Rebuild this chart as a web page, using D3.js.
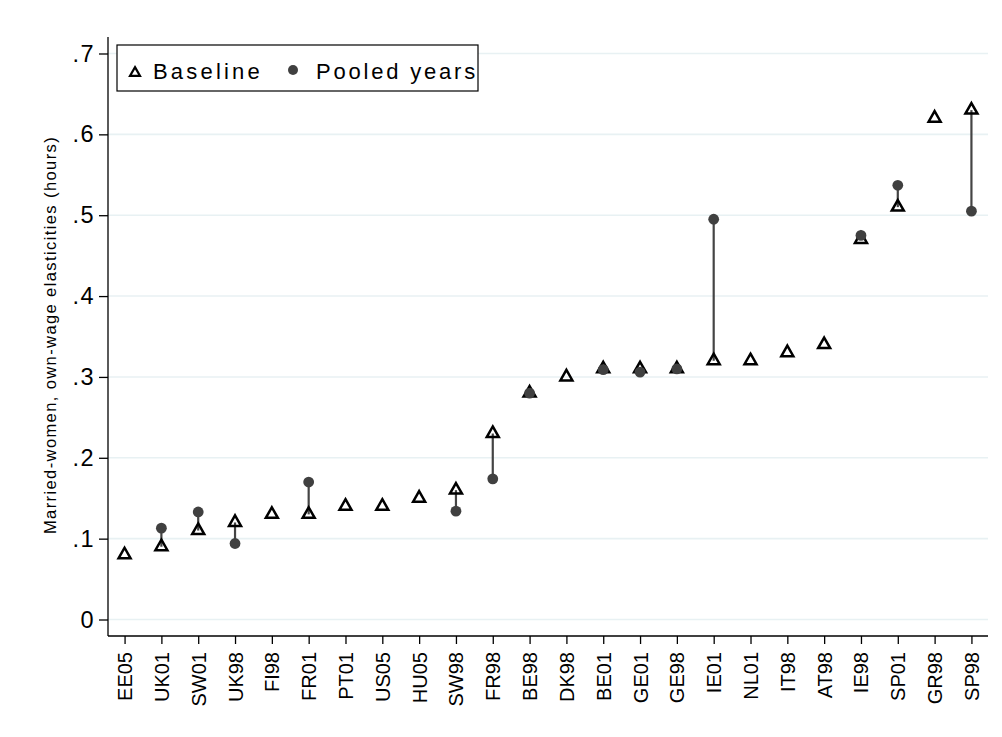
<!DOCTYPE html>
<html>
<head>
<meta charset="utf-8">
<script src="https://cdn.jsdelivr.net/npm/d3@7"></script>
<style>
  body { margin: 0; background: #fff; }
  text { font-family: "Liberation Sans", Arial, sans-serif; }
</style>
</head>
<body>
<div id="chart"></div>
<script>
// country-year samples, sorted by baseline elasticity
var categories = ["EE05", "UK01", "SW01", "UK98", "FI98", "FR01", "PT01", "US05", "HU05", "SW98",
                  "FR98", "BE98", "DK98", "BE01", "GE01", "GE98", "IE01", "NL01", "IT98", "AT98",
                  "IE98", "SP01", "GR98", "SP98"];
var baseline = [0.08, 0.09, 0.11, 0.12, 0.13, 0.13, 0.14, 0.14, 0.15, 0.16,
                0.23, 0.28, 0.30, 0.31, 0.31, 0.31, 0.32, 0.32, 0.33, 0.34,
                0.47, 0.51, 0.62, 0.63];
// null where there is no pooled estimate
var pooled = [null, 0.113, 0.133, 0.094, null, 0.170, null, null, null, 0.134,
              0.174, 0.280, null, 0.309, 0.306, 0.310, 0.495, null, null, null,
              0.475, 0.537, null, 0.505];
var yTicks = [0, 0.1, 0.2, 0.3, 0.4, 0.5, 0.6, 0.7];
var yTickLabels = ["0", ".1", ".2", ".3", ".4", ".5", ".6", ".7"];

var width = 1002, height = 737;
var plotL = 108, plotR = 988, plotT = 37, plotB = 636;

var svg = d3.select("#chart").append("svg")
    .attr("width", width)
    .attr("height", height);

var x = d3.scaleLinear().domain([0.55, 24.45]).range([plotL, plotR]);
var y = d3.scaleLinear().domain([-0.0204, 0.7204]).range([plotB, plotT]);

var data = categories.map(function(c, i) {
  return {name: c, pos: i + 1, base: baseline[i], pool: pooled[i]};
});

// grid lines
svg.selectAll("line.grid").data(yTicks).enter().append("line")
    .attr("class", "grid")
    .attr("x1", plotL).attr("x2", plotR)
    .attr("y1", function(d) { return y(d); })
    .attr("y2", function(d) { return y(d); })
    .attr("stroke", "#e8f1f3")
    .attr("stroke-width", 1.6);

// y axis
var yAxis = d3.axisLeft(y).tickValues(yTicks)
    .tickFormat(function(d, i) { return yTickLabels[i]; })
    .tickSize(9).tickPadding(0);
var gy = svg.append("g").attr("transform", "translate(" + plotL + ",0)").call(yAxis);
gy.select(".domain").attr("d", "M0," + plotT + "V" + plotB).attr("stroke", "#000").attr("stroke-width", 1.3);
gy.selectAll(".tick line").attr("stroke", "#000").attr("stroke-width", 1.3);
gy.selectAll(".tick text").attr("font-size", 23.5).attr("fill", "#000")
    .attr("letter-spacing", 1.5)
    .attr("x", -13)
    .style("font-family", "'Liberation Sans', Arial, sans-serif");

// x axis
var xAxis = d3.axisBottom(x).tickValues(d3.range(1, 25))
    .tickFormat(function(d) { return categories[d - 1]; })
    .tickSize(8).tickPadding(0);
var gx = svg.append("g").attr("transform", "translate(0," + plotB + ")").call(xAxis);
gx.select(".domain").attr("d", "M" + plotL + ",0H" + plotR).attr("stroke", "#000").attr("stroke-width", 1.3);
gx.selectAll(".tick line").attr("stroke", "#000").attr("stroke-width", 1.3);
gx.selectAll(".tick text")
    .attr("font-size", 20).attr("fill", "#000")
    .style("font-family", "'Liberation Sans', Arial, sans-serif")
    .attr("text-anchor", "end")
    .attr("dy", "0.35em")
    .attr("transform", "translate(0,16) rotate(-90)")
    .attr("x", 0).attr("y", 0);

// y title
svg.append("text")
    .attr("transform", "translate(55.5,335) rotate(-90)")
    .attr("text-anchor", "middle")
    .attr("font-size", 16.5)
    .attr("letter-spacing", 1.4)
    .attr("fill", "#000")
    .text("Married-women, own-wage elasticities (hours)");

// connecting lines
var both = data.filter(function(d) { return d.pool !== null; });
svg.selectAll("line.link").data(both).enter().append("line")
    .attr("class", "link")
    .attr("x1", function(d) { return x(d.pos); })
    .attr("x2", function(d) { return x(d.pos); })
    .attr("y1", function(d) { return y(d.base); })
    .attr("y2", function(d) { return y(d.pool); })
    .attr("stroke", "#444")
    .attr("stroke-width", 2.2);

function triPath(cx, cy, w) {
  var h = w * 0.88;
  return "M" + cx + "," + (cy - h * 0.67) +
         "L" + (cx + w / 2) + "," + (cy + h * 0.33) +
         "L" + (cx - w / 2) + "," + (cy + h * 0.33) + "Z";
}

// baseline triangles
svg.selectAll("path.base").data(data).enter().append("path")
    .attr("class", "base")
    .attr("d", function(d) { return triPath(x(d.pos), y(d.base), 12); })
    .attr("fill", "none")
    .attr("stroke", "#000")
    .attr("stroke-width", 2.5)
    .attr("stroke-linejoin", "miter");

// pooled circles
svg.selectAll("circle.pool").data(both).enter().append("circle")
    .attr("class", "pool")
    .attr("cx", function(d) { return x(d.pos); })
    .attr("cy", function(d) { return y(d.pool); })
    .attr("r", 5.4)
    .attr("fill", "#404040");

// legend
var lg = svg.append("g");
lg.append("rect").attr("x", 117).attr("y", 45).attr("width", 361).attr("height", 46)
    .attr("fill", "#fff").attr("stroke", "#000").attr("stroke-width", 1.2);
lg.append("path").attr("d", triPath(135, 73, 10))
    .attr("fill", "none").attr("stroke", "#000").attr("stroke-width", 2.2);
lg.append("text").attr("x", 153).attr("y", 79).attr("font-size", 22)
    .attr("letter-spacing", 3.2).attr("fill", "#000").text("Baseline");
lg.append("circle").attr("cx", 293).attr("cy", 70).attr("r", 5).attr("fill", "#404040");
lg.append("text").attr("x", 316).attr("y", 79).attr("font-size", 22)
    .attr("letter-spacing", 2.8).attr("fill", "#000").text("Pooled years");
</script>
</body>
</html>
